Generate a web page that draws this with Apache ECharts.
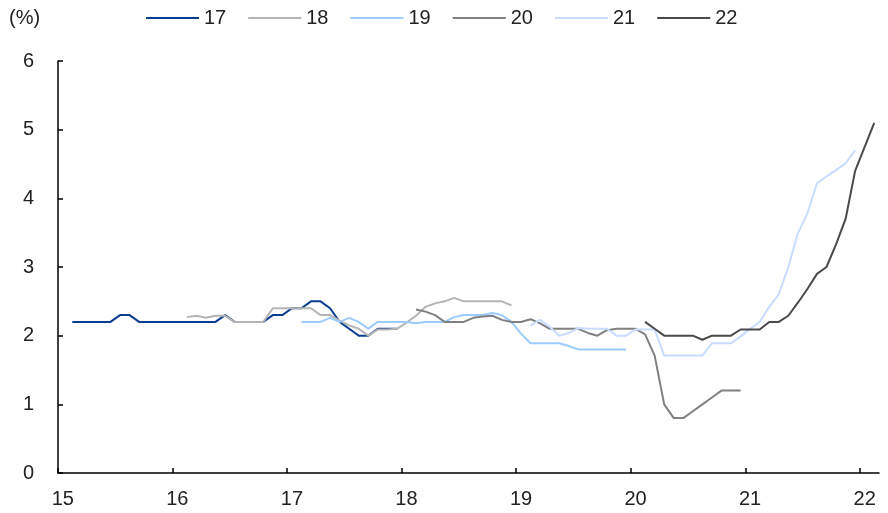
<!DOCTYPE html>
<html>
<head>
<meta charset="utf-8">
<script src="https://cdn.jsdelivr.net/npm/echarts@6/dist/echarts.min.js"></script>
<style>
  html, body { margin: 0; padding: 0; background: #fff; }
  #chart { width: 888px; height: 513px; }
</style>
</head>
<body>
<div id="chart"></div>
<script>
// Year tick labels (two-digit years) and monthly periods from Jan-15 to Feb-22
const yearLabels = ['15', '16', '17', '18', '19', '20', '21', '22'];
const monthCount = 86;

// Each vintage: index of its first month (0 = Jan-15) and its monthly values (%)
const start17 = 1;
const s17 = [2.2, 2.2, 2.2, 2.2, 2.2, 2.3, 2.3, 2.2, 2.2, 2.2, 2.2, 2.2, 2.2, 2.2, 2.2, 2.2,
  2.3, 2.2, 2.2, 2.2, 2.2, 2.3, 2.3, 2.4, 2.4, 2.5, 2.5, 2.4, 2.2, 2.1, 2.0, 2.0, 2.1, 2.1, 2.1];

const start18 = 13;
const s18 = [2.27, 2.29, 2.26, 2.29, 2.29, 2.2, 2.2, 2.2, 2.2, 2.4, 2.4, 2.4, 2.4, 2.4, 2.3, 2.3,
  2.22, 2.15, 2.1, 2.0, 2.09, 2.09, 2.1, 2.19, 2.29, 2.42, 2.47, 2.5, 2.55, 2.5, 2.5, 2.5, 2.5, 2.5, 2.44];

const start19 = 25;
const s19 = [2.2, 2.2, 2.2, 2.26, 2.2, 2.26, 2.2, 2.1, 2.2, 2.2, 2.2, 2.2, 2.18, 2.2, 2.2, 2.2,
  2.27, 2.3, 2.3, 2.3, 2.33, 2.3, 2.2, 2.03, 1.89, 1.89, 1.89, 1.89, 1.85, 1.8, 1.8, 1.8, 1.8, 1.8, 1.8];

const start20 = 37;
const s20 = [2.38, 2.35, 2.3, 2.2, 2.2, 2.2, 2.26, 2.28, 2.29, 2.23, 2.2, 2.2, 2.24, 2.18, 2.1, 2.1,
  2.1, 2.1, 2.04, 2.0, 2.08, 2.1, 2.1, 2.1, 2.02, 1.71, 1.0, 0.8, 0.8, 0.9, 1.0, 1.1, 1.2, 1.2, 1.2];

const start21 = 49;
const s21 = [2.15, 2.23, 2.13, 2.0, 2.04, 2.11, 2.1, 2.1, 2.1, 2.0, 2.0, 2.09, 2.09, 2.09, 1.71, 1.71,
  1.71, 1.71, 1.71, 1.89, 1.89, 1.89, 1.99, 2.1, 2.2, 2.42, 2.6, 3.0, 3.49, 3.78, 4.22, 4.32, 4.41, 4.51, 4.7];

const start22 = 61;
const s22 = [2.2, 2.1, 2.0, 2.0, 2.0, 2.0, 1.94, 2.0, 2.0, 2.0, 2.09, 2.09, 2.09, 2.2, 2.2, 2.29,
  2.48, 2.68, 2.9, 3.0, 3.33, 3.7, 4.4, 4.75, 5.1];

const yTicks = [0, 1, 2, 3, 4, 5, 6];

// Monthly points sit in the middle of their month slot
function toPoints(start, values) {
  return values.map((v, k) => [start + k + 0.5, v]);
}

const yearTicks = yearLabels.map((_, i) => i * 12);
const yearLabelPos = yearLabels.map((_, i) => i * 12 + 0.5);

const FONT = "'Liberation Sans', Arial, sans-serif";
const TXT = '#222';
const FS = 20;

const seriesDefs = [
  { name: '17', color: '#0a3d91', start: start17, values: s17 },
  { name: '18', color: '#b4b4b4', start: start18, values: s18 },
  { name: '19', color: '#9ccbff', start: start19, values: s19 },
  { name: '20', color: '#808080', start: start20, values: s20 },
  { name: '21', color: '#c8dcff', start: start21, values: s21 },
  { name: '22', color: '#4a4a4a', start: start22, values: s22 }
];

const chart = echarts.init(document.getElementById('chart'), null, { renderer: 'canvas' });
chart.setOption({
  animation: false,
  backgroundColor: '#fff',
  title: {
    text: '(%)',
    left: 9, top: 8, padding: 0,
    textStyle: { fontFamily: FONT, fontSize: FS, fontWeight: 'normal', color: TXT }
  },
  legend: {
    left: 146, top: 8, padding: 0,
    icon: 'rect', itemWidth: 53, itemHeight: 2, itemGap: 22,
    textStyle: { fontFamily: FONT, fontSize: FS, color: TXT },
    data: seriesDefs.map(s => s.name)
  },
  grid: { left: 58, right: 9, top: 61, bottom: 40 },
  xAxis: {
    type: 'value',
    min: 0, max: monthCount,
    splitLine: { show: false },
    axisLine: { show: true, lineStyle: { color: '#000', width: 1.5 } },
    axisTick: { show: true, inside: true, length: 5, customValues: yearTicks, lineStyle: { color: '#000', width: 1.5 } },
    axisLabel: {
      customValues: yearLabelPos,
      formatter: v => yearLabels[Math.floor(v / 12)],
      margin: 16, fontFamily: FONT, fontSize: FS, color: TXT
    }
  },
  yAxis: {
    type: 'value',
    min: yTicks[0], max: yTicks[yTicks.length - 1], interval: 1,
    splitLine: { show: false },
    axisLine: { show: true, lineStyle: { color: '#000', width: 1.5 } },
    axisTick: { show: true, inside: true, length: 5, lineStyle: { color: '#000', width: 1.5 } },
    axisLabel: { margin: 24, fontFamily: FONT, fontSize: FS, color: TXT }
  },
  series: seriesDefs.map(s => ({
    name: s.name,
    type: 'line',
    data: toPoints(s.start, s.values),
    symbol: 'none',
    showSymbol: false,
    lineStyle: { color: s.color, width: 2 },
    itemStyle: { color: s.color },
    emphasis: { disabled: true }
  }))
});
</script>
</body>
</html>
